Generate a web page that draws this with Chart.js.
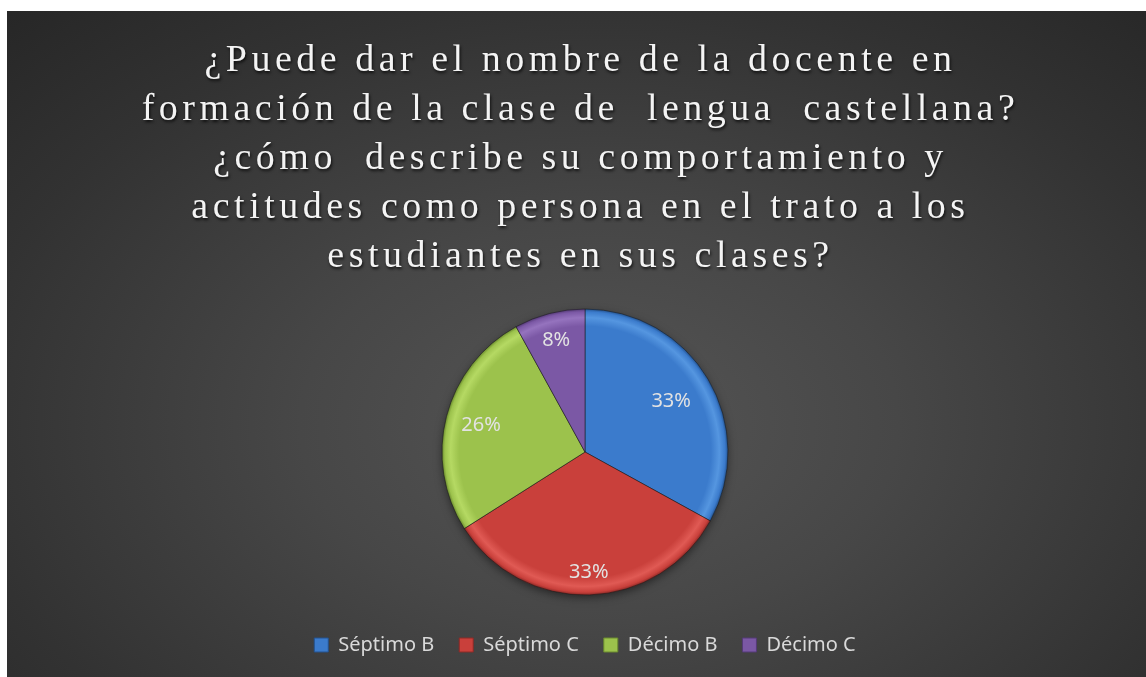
<!DOCTYPE html>
<html>
<head>
<meta charset="utf-8">
<script src="https://cdn.jsdelivr.net/npm/chart.js@4.4.1/dist/chart.umd.min.js"></script>
<style>
    html, body { margin: 0; padding: 0; background: #ffffff; }
    #panel {
        position: absolute; left: 7px; top: 11px; width: 1139px; height: 666px;
        background: radial-gradient(ellipse 75% 85% at 52% 62%, #555555 0%, #474747 35%, #323232 75%, #272727 100%);
        overflow: hidden;
    }
    #title {
        position: absolute; left: 0; top: 23px; width: 1139px; padding-left: 8px; box-sizing: border-box;
        text-align: center; color: #f4f4f4;
        font-family: "Liberation Serif", "Times New Roman", serif; font-size: 38px; line-height: 49px;
        letter-spacing: 4.5px; white-space: pre;
        text-shadow: 1px 2px 3px rgba(0,0,0,0.75);
        pointer-events: none;
    }
    #wrap { position: absolute; left: 0; top: 0; width: 1139px; height: 666px; }
</style>
</head>
<body>
<div id="panel">
    <div id="wrap"><canvas id="pie"></canvas></div>
    <div id="title"></div>
</div>
<script>
'use strict';

// ── Data ────────────────────────────────────────────────────────────────
const titleLines = [
    '¿Puede dar el nombre de la docente en',
    'formación de la clase de  lengua  castellana?',
    '¿cómo  describe su comportamiento y',
    'actitudes como persona en el trato a los',
    'estudiantes en sus clases?'
];
const categories = ['Séptimo B', 'Séptimo C', 'Décimo B', 'Décimo C'];
const percentValues = [33, 33, 26, 8];
const sliceColors = ['#3b7bcc', '#c9403b', '#9cc24c', '#7b58a5'];
const sliceLight  = ['#5596e0', '#e05a54', '#b5d963', '#9573be'];
const sliceDark   = ['#24538f', '#8c2a27', '#6a8a2e', '#543a76'];
const PIE_RADIUS = 143;

document.getElementById('title').textContent = titleLines.join('\n');

// ── Helpers ─────────────────────────────────────────────────────────────
function sliceFill(ctx) {
    const chart = ctx.chart;
    const i = ctx.dataIndex;
    const area = chart.chartArea;
    if (!area || i === undefined) return sliceColors[i] || '#888';
    const cx = (area.left + area.right) / 2, cy = (area.top + area.bottom) / 2;
    const r = PIE_RADIUS;
    const g = chart.ctx.createRadialGradient(cx, cy, 0, cx, cy, r);
    g.addColorStop(0, sliceColors[i]);
    g.addColorStop(0.88, sliceColors[i]);
    g.addColorStop(0.94, sliceLight[i]);
    g.addColorStop(0.98, sliceColors[i]);
    g.addColorStop(1, sliceDark[i]);
    return g;
}

// percentage labels drawn inside each slice
const sliceLabels = {
    id: 'sliceLabels',
    afterDatasetsDraw(chart, args, opts) {
        const ctx = chart.ctx;
        const meta = chart.getDatasetMeta(0);
        const data = chart.data.datasets[0].data;
        const total = data.reduce((a, b) => a + b, 0);
        ctx.save();
        ctx.font = opts.font;
        ctx.fillStyle = opts.color;
        ctx.textAlign = 'center';
        ctx.textBaseline = 'middle';
        meta.data.forEach((arc, i) => {
            const p = arc.getProps(['x', 'y', 'startAngle', 'endAngle', 'outerRadius'], true);
            const mid = (p.startAngle + p.endAngle) / 2;
            const rr = p.outerRadius * opts.radius[i];
            const txt = Math.round(data[i] / total * 100) + '%';
            ctx.fillText(txt, p.x + Math.cos(mid) * rr, p.y + Math.sin(mid) * rr);
        });
        ctx.restore();
    }
};

// soft drop shadow under the pie
const pieShadow = {
    id: 'pieShadow',
    beforeDatasetsDraw(chart) {
        const el = chart.getDatasetMeta(0).data[0];
        if (!el) return;
        const ctx = chart.ctx;
        ctx.save();
        ctx.shadowColor = 'rgba(0,0,0,0.55)';
        ctx.shadowBlur = 10;
        ctx.shadowOffsetY = 3;
        ctx.fillStyle = '#333';
        ctx.beginPath();
        ctx.arc(el.x, el.y, el.outerRadius - 1, 0, Math.PI * 2);
        ctx.fill();
        ctx.restore();
    }
};

// ── Chart ───────────────────────────────────────────────────────────────
new Chart(document.getElementById('pie').getContext('2d'), {
    type: 'pie',
    data: {
        labels: categories,
        datasets: [{
            data: percentValues,
            backgroundColor: sliceFill,
            borderColor: 'rgba(25,25,25,0.55)',
            borderWidth: 1,
            radius: PIE_RADIUS
        }]
    },
    options: {
        animation: false, responsive: true, maintainAspectRatio: false,
        layout: { padding: { top: 283, left: 17, bottom: 12 } },
        plugins: {
            tooltip: { enabled: false },
            title: { display: false },
            legend: {
                position: 'bottom',
                labels: {
                    color: '#d9d9d9',
                    font: { family: 'Noto Sans', size: 20 },
                    boxWidth: 14, boxHeight: 14, padding: 25,
                    generateLabels: (chart) => categories.map((c, i) => ({
                        text: c, fillStyle: sliceColors[i], strokeStyle: sliceDark[i],
                        lineWidth: 1, fontColor: '#d9d9d9', index: i, hidden: false
                    }))
                }
            },
            sliceLabels: { font: '20px "Noto Sans"', color: '#e2e2e2', radius: [0.70, 0.84, 0.75, 0.81] }
        }
    },
    plugins: [pieShadow, sliceLabels]
});
</script>
</body>
</html>
